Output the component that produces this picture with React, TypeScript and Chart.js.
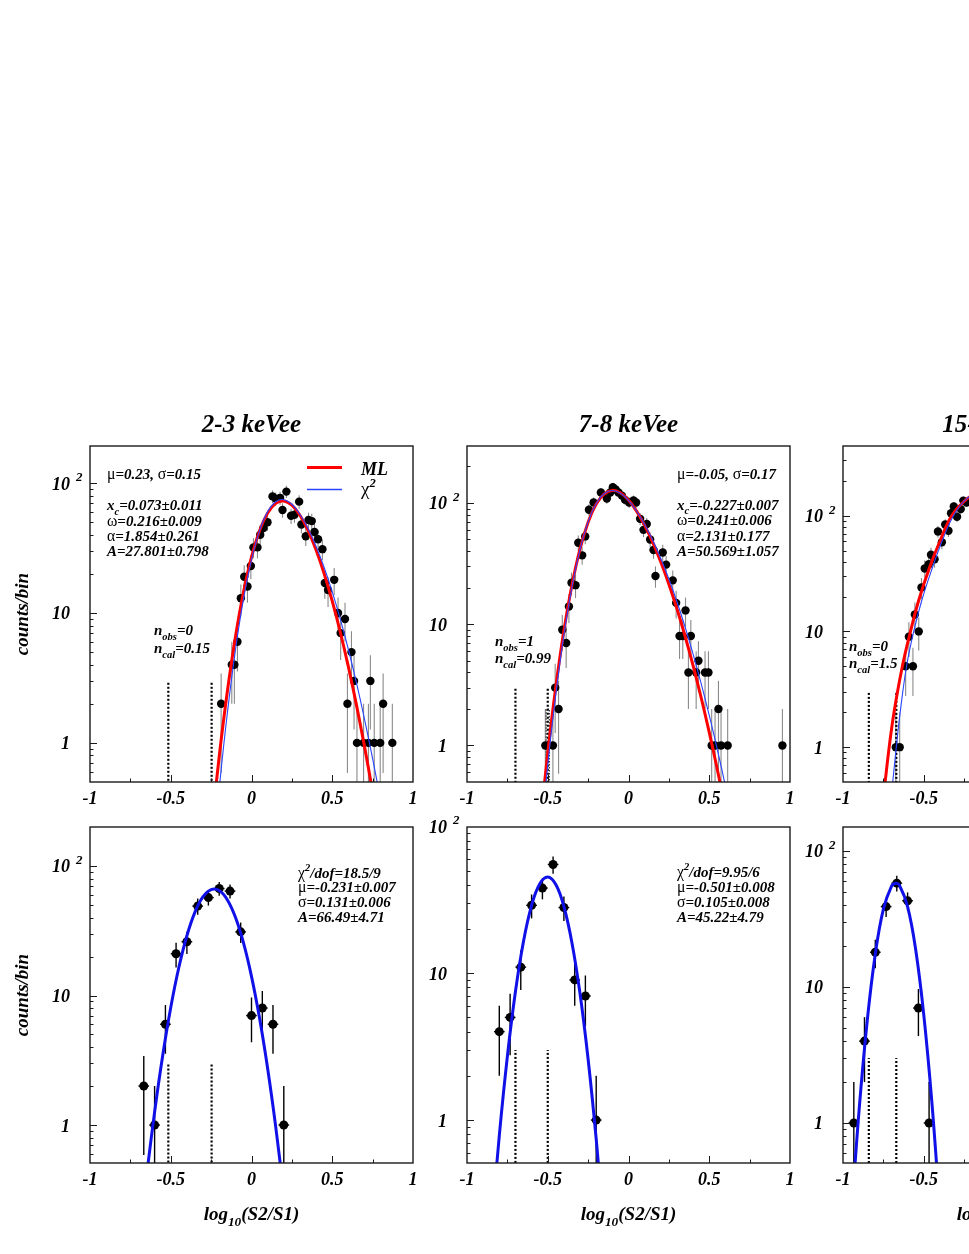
import React, { useEffect, useRef } from "react";
import { Chart, registerables } from "chart.js";

Chart.register(...registerables);

type P = [number, number];

// ---------------- labels ----------------
const energyTitles = ["2-3 keVee", "7-8 keVee", "15-16 keVee"];
const xTickValues = [-1, -0.5, 0, 0.5, 1];
const xTickLabels = ["-1", "-0.5", "0", "0.5", "1"];
const yTickValues = [1, 10, 100];
const yTickLabels = ["1", "10", "10^{2}"];
const yAxisTitle = "counts/bin";
const xAxisTitle = "log_{10}(S2/S1)";

// ---------------- top row: counts per bin (x, N) ----------------
const top1Counts: P[] = [
  [-0.188, 2], [-0.122, 4], [-0.106, 4], [-0.087, 6], [-0.066, 13], [-0.045, 19], [-0.025, 16],
  [-0.004, 23], [0.012, 32], [0.037, 32], [0.054, 40], [0.074, 45], [0.099, 50], [0.13, 79],
  [0.15, 76], [0.177, 77], [0.192, 62], [0.216, 86], [0.245, 56], [0.266, 57], [0.295, 72],
  [0.309, 48], [0.336, 39], [0.353, 52], [0.373, 51], [0.39, 42], [0.412, 37], [0.439, 31],
  [0.454, 17], [0.474, 15], [0.512, 18], [0.536, 10], [0.552, 7], [0.579, 9], [0.594, 2],
  [0.619, 5], [0.635, 3], [0.653, 1], [0.694, 1], [0.724, 1], [0.736, 3], [0.76, 1],
  [0.797, 1], [0.815, 2], [0.872, 1],
];
const top2Counts: P[] = [
  [-0.515, 1], [-0.468, 1], [-0.454, 3], [-0.433, 2], [-0.41, 9], [-0.386, 7], [-0.369, 14],
  [-0.353, 22], [-0.328, 21], [-0.311, 47], [-0.287, 37], [-0.268, 53], [-0.245, 88],
  [-0.216, 101], [-0.171, 122], [-0.134, 109], [-0.113, 122], [-0.097, 135], [-0.08, 129],
  [-0.062, 122], [-0.041, 115], [-0.021, 106], [0.004, 101], [0.031, 105], [0.047, 101],
  [0.072, 74], [0.093, 60], [0.113, 67], [0.134, 50], [0.155, 41], [0.167, 25], [0.212, 39],
  [0.233, 31], [0.274, 23], [0.295, 15], [0.316, 8], [0.336, 8], [0.353, 13], [0.371, 4],
  [0.386, 8], [0.419, 4], [0.433, 5], [0.474, 4], [0.495, 4], [0.515, 1], [0.536, 1],
  [0.557, 2], [0.573, 1], [0.614, 1], [0.953, 1],
];
const top3Counts: P[] = [
  [-0.673, 1], [-0.649, 1], [-0.612, 5], [-0.592, 9], [-0.567, 5], [-0.555, 14], [-0.531, 10],
  [-0.514, 24], [-0.494, 35], [-0.469, 38], [-0.455, 46], [-0.433, 42], [-0.412, 73],
  [-0.388, 59], [-0.367, 84], [-0.347, 74], [-0.331, 105], [-0.314, 120], [-0.294, 98],
  [-0.271, 114], [-0.255, 135], [-0.235, 130],
];

// ---------------- top row: fitted curves ----------------
const top1ML: P[] = [
  [-0.25, 0.209], [-0.2, 0.785], [-0.15, 2.462], [-0.1, 6.477], [-0.05, 14.35], [0, 26.89],
  [0.05, 42.92], [0.1, 58.8], [0.15, 69.87], [0.2, 72.86], [0.25, 67.58], [0.3, 56.54],
  [0.35, 43.21], [0.4, 30.51], [0.45, 20.05], [0.5, 12.33], [0.55, 7.108], [0.6, 3.846],
  [0.65, 1.954], [0.7, 0.933], [0.75, 0.419], [0.8, 0.177],
];
const top1Chi2: P[] = [
  [-0.25, 0.0933], [-0.2, 0.442], [-0.15, 1.676], [-0.1, 5.125], [-0.05, 12.71], [0, 25.75],
  [0.05, 43.07], [0.1, 60.29], [0.15, 71.86], [0.2, 74.49], [0.25, 68.69], [0.3, 57.6],
  [0.35, 44.74], [0.4, 32.57], [0.45, 22.38], [0.5, 14.55], [0.55, 8.968], [0.6, 5.236],
  [0.65, 2.898], [0.7, 1.52], [0.75, 0.756], [0.8, 0.356], [0.85, 0.159],
];
const top2ML: P[] = [
  [-0.55, 0.2017], [-0.5, 0.8685], [-0.45, 3.056], [-0.4, 8.833], [-0.35, 21.07], [-0.3, 41.76],
  [-0.25, 69.43], [-0.2, 97.96], [-0.15, 119.09], [-0.1, 127.01], [-0.05, 121.27], [0, 105.76],
  [0.05, 85.73], [0.1, 65.41], [0.15, 47.32], [0.2, 32.59], [0.25, 21.39], [0.3, 13.4],
  [0.35, 7.999], [0.4, 4.555], [0.45, 2.475], [0.5, 1.282], [0.55, 0.634], [0.6, 0.299],
];
const top2Chi2: P[] = [
  [-0.55, 0.1463], [-0.5, 0.6955], [-0.45, 2.654], [-0.4, 8.158], [-0.35, 20.34], [-0.3, 41.46],
  [-0.25, 69.91], [-0.2, 98.88], [-0.15, 119.64], [-0.1, 126.67], [-0.05, 120.33], [0, 105.03],
  [0.05, 85.86], [0.1, 66.56], [0.15, 49.23], [0.2, 34.84], [0.25, 23.61], [0.3, 15.33],
  [0.35, 9.53], [0.4, 5.676], [0.45, 3.238], [0.5, 1.769], [0.55, 0.926], [0.6, 0.464], [0.65, 0.223],
];
const top3ML: P[] = [
  [-0.76, 0.27], [-0.739, 0.5], [-0.714, 1], [-0.684, 2], [-0.633, 4.95], [-0.582, 10],
  [-0.531, 18.6], [-0.463, 36], [-0.398, 61], [-0.327, 100], [-0.235, 139], [-0.15, 165],
];
const top3Chi2: P[] = [
  [-0.71, 0.27], [-0.692, 0.5], [-0.67, 1], [-0.646, 2], [-0.607, 4.95], [-0.562, 10],
  [-0.512, 18.6], [-0.445, 36], [-0.385, 61], [-0.316, 100], [-0.238, 139], [-0.15, 165],
];

// ---------------- bottom row: counts per bin (x, N) ----------------
const bot1Counts: P[] = [
  [-0.667, 2], [-0.6, 1], [-0.533, 6], [-0.467, 21], [-0.4, 26], [-0.333, 49], [-0.267, 57],
  [-0.2, 67], [-0.133, 64], [-0.067, 31], [0, 7], [0.067, 8], [0.133, 6], [0.2, 1],
];
const bot2Counts: P[] = [
  [-0.8, 4], [-0.733, 5], [-0.667, 11], [-0.6, 29], [-0.533, 38], [-0.467, 55], [-0.4, 28],
  [-0.333, 9], [-0.267, 7], [-0.2, 1],
];
const bot3Counts: P[] = [
  [-0.933, 1], [-0.867, 4], [-0.8, 18], [-0.733, 39], [-0.667, 58], [-0.6, 43], [-0.533, 7], [-0.467, 1],
];

// ---------------- bottom row: gaussian fit curves ----------------
const bot1Fit: P[] = [
  [-0.7, 0.109], [-0.65, 0.399], [-0.6, 1.258], [-0.55, 3.428], [-0.5, 8.075], [-0.45, 16.44],
  [-0.4, 28.93], [-0.35, 44.01], [-0.3, 57.88], [-0.25, 65.79], [-0.2, 64.65], [-0.15, 54.92],
  [-0.1, 40.33], [-0.05, 25.6], [0, 14.05], [0.05, 6.663], [0.1, 2.731], [0.15, 0.968], [0.2, 0.297],
];
const bot2Fit: P[] = [
  [-0.85, 0.18], [-0.8, 0.784], [-0.75, 2.716], [-0.7, 7.505], [-0.65, 16.52], [-0.6, 28.99],
  [-0.55, 40.55], [-0.5, 45.22], [-0.45, 40.19], [-0.4, 28.47], [-0.35, 16.08], [-0.3, 7.238],
  [-0.25, 2.596], [-0.2, 0.743], [-0.15, 0.169],
];
const bot3Fit: P[] = [
  [-0.95, 0.193], [-0.9, 1.257], [-0.85, 5.646], [-0.8, 17.48], [-0.75, 37.32], [-0.7, 54.94],
  [-0.675, 57.9], [-0.65, 55.76], [-0.6, 39.02], [-0.55, 18.83], [-0.5, 6.263], [-0.45, 1.437], [-0.4, 0.227],
];

// ---------------- signal-region markers (dotted lines) ----------------
const region1 = [-0.515, -0.247];
const region2 = [-0.7, -0.5];
const region3 = [-0.84, -0.67];
const regionTop = 3;
const lineFloor = 0.1;
const obsBar2: P[] = [[-0.51, lineFloor], [-0.51, 2], [-0.49, 2], [-0.49, lineFloor]];

// ---------------- annotation texts ----------------
const top1Stats = ["μ=0.23, σ=0.15", "x_{c}=0.073±0.011", "ω=0.216±0.009", "α=1.854±0.261", "A=27.801±0.798"];
const top2Stats = ["μ=-0.05, σ=0.17", "x_{c}=-0.227±0.007", "ω=0.241±0.006", "α=2.131±0.177", "A=50.569±1.057"];
const nText1 = ["n_{obs}=0", "n_{cal}=0.15"];
const nText2 = ["n_{obs}=1", "n_{cal}=0.99"];
const nText3 = ["n_{obs}=0", "n_{cal}=1.5"];
const bot1Stats = ["χ^{2}/dof=18.5/9", "μ=-0.231±0.007", "σ=0.131±0.006", "A=66.49±4.71"];
const bot2Stats = ["χ^{2}/dof=9.95/6", "μ=-0.501±0.008", "σ=0.105±0.008", "A=45.22±4.79"];
const legendLabels = ["ML", "χ^{2}"];

// ---------------- layout ----------------
const BOX_LEFT = [90, 467, 843];
const BOX_TOP = [446, 827];
const BOX_W = 323;
const BOX_H = 336;
const PAD = { left: 90, right: 30, top: 50, bottom: 75 };
const FONT = '"Liberation Serif", "Times New Roman", serif';

interface TextItem { x: number; y: number; s: string }
interface Curve { pts: P[]; color: string; width: number }
interface Spec {
  key: string; col: number; row: number; yMin: number; yMax: number;
  counts: P[]; top: boolean; curves: Curve[]; region: number[]; obsBar?: P[];
  texts: TextItem[]; legend?: boolean;
}

const RED = "#ff0000";
const THIN_BLUE = "#2a44ff";
const FIT_BLUE = "#1010e8";

function block(lines: string[], x: number, ys: number[]): TextItem[] {
  return lines.map((s, i) => ({ x, y: ys[i], s }));
}

const specs: Spec[] = [
  {
    key: "t1", col: 0, row: 0, yMin: 0.5, yMax: 193, counts: top1Counts, top: true,
    curves: [{ pts: top1Chi2, color: THIN_BLUE, width: 1.1 }, { pts: top1ML, color: RED, width: 3 }],
    region: region1,
    texts: [...block(top1Stats, 17, [32.5, 64, 79.5, 95, 110]), ...block(nText1, 64, [189, 207])],
    legend: true,
  },
  {
    key: "t2", col: 1, row: 0, yMin: 0.5, yMax: 295, counts: top2Counts, top: true,
    curves: [{ pts: top2Chi2, color: THIN_BLUE, width: 1.1 }, { pts: top2ML, color: RED, width: 3 }],
    region: region2, obsBar: obsBar2,
    texts: [...block(top2Stats, 210, [33, 63.5, 79, 94.7, 110]), ...block(nText2, 28, [200, 217])],
  },
  {
    key: "t3", col: 2, row: 0, yMin: 0.5, yMax: 400, counts: top3Counts, top: true,
    curves: [{ pts: top3Chi2, color: THIN_BLUE, width: 1.1 }, { pts: top3ML, color: RED, width: 3 }],
    region: region3,
    texts: block(nText3, 6, [205, 222]),
  },
  {
    key: "b1", col: 0, row: 1, yMin: 0.509, yMax: 200, counts: bot1Counts, top: false,
    curves: [{ pts: bot1Fit, color: FIT_BLUE, width: 3 }], region: region1,
    texts: block(bot1Stats, 208, [51, 64.7, 79.7, 94.7]),
  },
  {
    key: "b2", col: 1, row: 1, yMin: 0.51, yMax: 99, counts: bot2Counts, top: false,
    curves: [{ pts: bot2Fit, color: FIT_BLUE, width: 3 }], region: region2,
    texts: block(bot2Stats, 210, [49.5, 64.5, 79.5, 95]),
  },
  {
    key: "b3", col: 2, row: 1, yMin: 0.508, yMax: 150, counts: bot3Counts, top: false,
    curves: [{ pts: bot3Fit, color: FIT_BLUE, width: 3 }], region: region3,
    texts: [],
  },
];

// ---------------- rich text ----------------
type Seg = { t: string; mode: "n" | "sub" | "sup"; greek: boolean };
const GREEK = "μσωαχ";

function parseRich(s: string): Seg[] {
  const segs: Seg[] = [];
  let buf = "";
  const flush = () => {
    if (buf) segs.push({ t: buf, mode: "n", greek: false });
    buf = "";
  };
  let i = 0;
  while (i < s.length) {
    const c = s[i];
    if ((c === "_" || c === "^") && s[i + 1] === "{") {
      flush();
      const end = s.indexOf("}", i);
      segs.push({ t: s.slice(i + 2, end), mode: c === "_" ? "sub" : "sup", greek: false });
      i = end + 1;
    } else if (GREEK.includes(c)) {
      flush();
      segs.push({ t: c, mode: "n", greek: true });
      i++;
    } else {
      buf += c;
      i++;
    }
  }
  flush();
  return segs;
}

function segFont(seg: Seg, size: number) {
  const sz = seg.mode === "n" ? (seg.greek ? size * 1.05 : size) : size * 0.7;
  return seg.greek ? `${sz}px ${FONT}` : `italic bold ${sz}px ${FONT}`;
}

function drawRich(ctx: CanvasRenderingContext2D, s: string, x: number, y: number, size: number, align: "left" | "center" | "right" = "left") {
  const segs = parseRich(s);
  let w = 0;
  for (const seg of segs) {
    ctx.font = segFont(seg, size);
    w += ctx.measureText(seg.t).width;
  }
  let cx = align === "left" ? x : align === "right" ? x - w : x - w / 2;
  ctx.textAlign = "left";
  ctx.textBaseline = "alphabetic";
  for (const seg of segs) {
    ctx.font = segFont(seg, size);
    const dy = seg.mode === "sub" ? size * 0.3 : seg.mode === "sup" ? -size * 0.45 : 0;
    ctx.fillText(seg.t, cx, y + dy);
    cx += ctx.measureText(seg.t).width;
  }
}

// ---------------- plugin ----------------
function makeDecor(spec: Spec) {
  return {
    id: "decor_" + spec.key,
    beforeDatasetsDraw(chart: any) {
      const { ctx, chartArea: a } = chart;
      const xs = chart.scales.x;
      const ys = chart.scales.y;
      ctx.save();
      ctx.beginPath();
      ctx.rect(a.left, a.top, a.right - a.left, a.bottom - a.top);
      ctx.clip();
      ctx.strokeStyle = spec.top ? "#8a8a8a" : "#000";
      ctx.lineWidth = spec.top ? 1.1 : 1.4;
      const half = spec.top ? 0 : 0.033;
      for (const [vx, n] of spec.counts) {
        const e = Math.sqrt(n);
        const px = xs.getPixelForValue(vx);
        const lo = n - e > 0 ? ys.getPixelForValue(n - e) : a.bottom + 5;
        const hi = ys.getPixelForValue(n + e);
        ctx.beginPath();
        ctx.moveTo(px, lo);
        ctx.lineTo(px, hi);
        ctx.stroke();
        if (half > 0) {
          const py = ys.getPixelForValue(n);
          ctx.beginPath();
          ctx.moveTo(xs.getPixelForValue(vx - half), py);
          ctx.lineTo(xs.getPixelForValue(vx + half), py);
          ctx.stroke();
        }
      }
      ctx.restore();
    },
    afterDatasetsDraw(chart: any) {
      const { ctx, chartArea: a } = chart;
      const xs = chart.scales.x;
      const ys = chart.scales.y;
      ctx.save();
      // frame
      ctx.strokeStyle = "#1a1a1a";
      ctx.lineWidth = 1.4;
      ctx.strokeRect(a.left, a.top, a.right - a.left, a.bottom - a.top);
      // y ticks (inward)
      ctx.lineWidth = 1;
      for (let d = -1; d <= 3; d++) {
        for (let k = 1; k <= 9; k++) {
          const v = k * Math.pow(10, d);
          if (v <= spec.yMin || v >= spec.yMax) continue;
          const py = Math.round(ys.getPixelForValue(v)) + 0.5;
          const len = k === 1 ? 7 : 3.5;
          ctx.beginPath();
          ctx.moveTo(a.left, py);
          ctx.lineTo(a.left + len, py);
          ctx.stroke();
        }
      }
      // x ticks (inward)
      for (let i = -3; i <= 3; i++) {
        const px = Math.round(xs.getPixelForValue(i * 0.25)) + 0.5;
        const len = i % 2 === 0 ? 7 : 3.5;
        ctx.beginPath();
        ctx.moveTo(px, a.bottom);
        ctx.lineTo(px, a.bottom - len);
        ctx.stroke();
      }
      ctx.fillStyle = "#000";
      // x tick labels
      xTickValues.forEach((v, i) => {
        drawRich(ctx, xTickLabels[i], xs.getPixelForValue(v), a.bottom + 22, 18, "center");
      });
      // y tick labels
      yTickValues.forEach((v, i) => {
        if (v < spec.yMin || v > spec.yMax * 1.02) return;
        const py = ys.getPixelForValue(v);
        const lab = yTickLabels[i];
        if (lab.includes("^")) {
          const [base, rest] = lab.split("^");
          drawRich(ctx, base, a.left - 20, py + 6.5, 18, "right");
          ctx.font = `italic bold 13px ${FONT}`;
          ctx.textAlign = "left";
          ctx.fillText(rest.replace(/[{}]/g, ""), a.left - 14, py - 2);
        } else {
          drawRich(ctx, lab, a.left - 20, py + 6.5, 18, "right");
        }
      });
      // titles
      const cx = (a.left + a.right) / 2;
      if (spec.row === 0) drawRich(ctx, energyTitles[spec.col], cx, a.top - 14, 25, "center");
      if (spec.row === 1) drawRich(ctx, xAxisTitle, cx, a.bottom + 57, 19, "center");
      if (spec.col === 0) {
        ctx.save();
        ctx.translate(a.left - 62, (a.top + a.bottom) / 2);
        ctx.rotate(-Math.PI / 2);
        drawRich(ctx, yAxisTitle, 0, 0, 19, "center");
        ctx.restore();
      }
      // annotations
      for (const t of spec.texts) drawRich(ctx, t.s, a.left + t.x, a.top + t.y, 15);
      // legend
      if (spec.legend) {
        ctx.lineWidth = 3;
        ctx.strokeStyle = RED;
        ctx.beginPath();
        ctx.moveTo(a.left + 217, a.top + 21.5);
        ctx.lineTo(a.left + 252, a.top + 21.5);
        ctx.stroke();
        ctx.lineWidth = 1.3;
        ctx.strokeStyle = THIN_BLUE;
        ctx.beginPath();
        ctx.moveTo(a.left + 217, a.top + 43.5);
        ctx.lineTo(a.left + 252, a.top + 43.5);
        ctx.stroke();
        drawRich(ctx, legendLabels[0], a.left + 271, a.top + 28.5, 18);
        drawRich(ctx, legendLabels[1], a.left + 271, a.top + 49, 18);
      }
      ctx.restore();
    },
  };
}

function toXY(pts: P[]) {
  return pts.map(([x, y]) => ({ x, y }));
}

function buildConfig(spec: Spec): any {
  const datasets: any[] = [];
  for (const c of spec.curves) {
    datasets.push({
      data: toXY(c.pts), showLine: true, borderColor: c.color, borderWidth: c.width,
      pointRadius: 0, tension: 0.4, fill: false, clip: 0,
    });
  }
  datasets.push({
    data: toXY(spec.counts), showLine: false, pointRadius: spec.top ? 4.2 : 4.5,
    pointBackgroundColor: "#000", pointBorderWidth: 0, pointBorderColor: "#000", clip: 0,
  });
  for (const rx of spec.region) {
    datasets.push({
      data: [{ x: rx, y: lineFloor }, { x: rx, y: regionTop }], showLine: true,
      borderColor: "#000", borderWidth: 2.2, borderDash: [2, 2], pointRadius: 0, tension: 0, clip: 0,
    });
  }
  if (spec.obsBar) {
    datasets.push({
      data: toXY(spec.obsBar), showLine: true, borderColor: "#333", borderWidth: 1.2,
      borderDash: [1.5, 1.5], pointRadius: 0, tension: 0, clip: 0,
    });
  }
  return {
    type: "scatter",
    data: { datasets },
    options: {
      animation: false,
      responsive: false,
      maintainAspectRatio: false,
      devicePixelRatio: 1,
      events: [],
      layout: { padding: { left: PAD.left, right: PAD.right, top: PAD.top, bottom: PAD.bottom } },
      elements: { line: { capBezierPoints: false } },
      plugins: { legend: { display: false }, tooltip: { enabled: false }, title: { display: false } },
      scales: {
        x: { type: "linear", min: -1, max: 1, display: false },
        y: { type: "logarithmic", min: spec.yMin, max: spec.yMax, display: false },
      },
    },
    plugins: [makeDecor(spec)],
  };
}

function PanelChart({ spec }: { spec: Spec }) {
  const ref = useRef<HTMLCanvasElement>(null);
  useEffect(() => {
    const chart = new Chart(ref.current as HTMLCanvasElement, buildConfig(spec));
    return () => chart.destroy();
  }, [spec]);
  const w = PAD.left + BOX_W + PAD.right;
  const h = PAD.top + BOX_H + PAD.bottom;
  const left = BOX_LEFT[spec.col] - PAD.left;
  const top = BOX_TOP[spec.row] - PAD.top;
  return (
    <canvas
      ref={ref}
      width={w}
      height={h}
      style={{ position: "absolute", left, top, width: w, height: h }}
    />
  );
}

export default function App() {
  return (
    <div
      style={{
        position: "fixed", left: 0, top: 0, width: 969, height: 1254,
        overflow: "hidden", background: "#fff",
      }}
    >
      {specs.map((s) => (
        <PanelChart key={s.key} spec={s} />
      ))}
    </div>
  );
}
